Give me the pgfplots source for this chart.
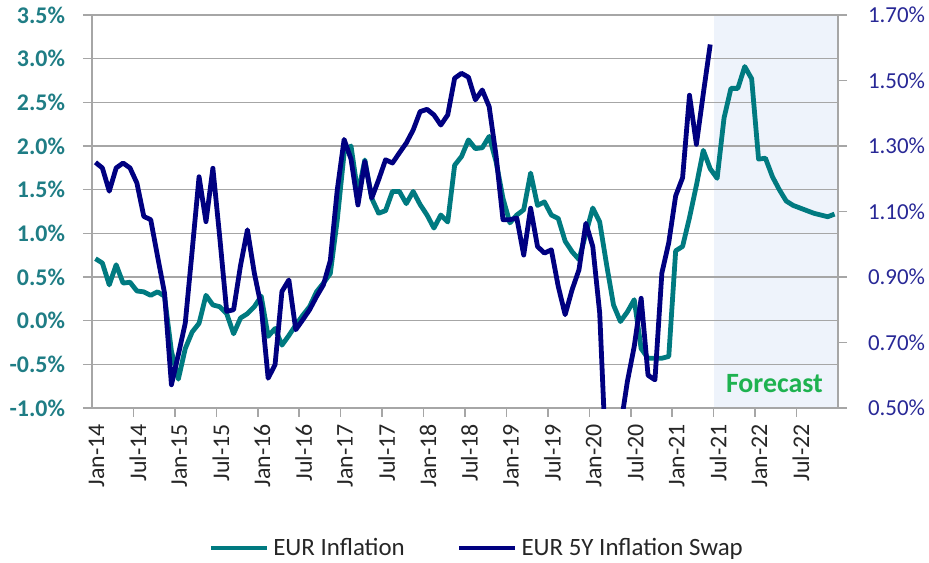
\documentclass[border=0pt]{standalone}
\usepackage{fontspec}
\setmainfont{Carlito}
\usepackage{pgfplots}
\usepackage{pgfplotstable}
\pgfplotsset{compat=1.18}

\definecolor{teal1}{RGB}{0,122,128}
\definecolor{navy1}{RGB}{0,0,128}
\definecolor{tealtxt}{RGB}{31,125,133}
\definecolor{navytxt}{RGB}{40,40,150}
\definecolor{gridc}{RGB}{166,166,166}
\definecolor{shade}{RGB}{238,243,251}
\definecolor{fcgreen}{RGB}{30,178,80}
\definecolor{lbl}{RGB}{38,38,38}

% months since Jan-14 (0 = Jan-14)
\pgfplotstableread{
m v
0 0.71
1 0.66
2 0.41
3 0.64
4 0.43
5 0.44
6 0.34
7 0.33
8 0.29
9 0.33
10 0.28
11 -0.35
12 -0.67
13 -0.32
14 -0.13
15 -0.03
16 0.29
17 0.18
18 0.16
19 0.08
20 -0.15
21 0.03
22 0.08
23 0.16
24 0.28
25 -0.18
26 -0.09
27 -0.28
28 -0.17
29 -0.05
30 0.06
31 0.16
32 0.33
33 0.43
34 0.54
35 1.15
36 1.92
37 2.00
38 1.45
39 1.84
40 1.40
41 1.23
42 1.26
43 1.48
44 1.48
45 1.34
46 1.48
47 1.33
48 1.21
49 1.06
50 1.21
51 1.13
52 1.78
53 1.88
54 2.07
55 1.97
56 1.98
57 2.11
58 1.82
59 1.40
60 1.12
61 1.21
62 1.27
63 1.69
64 1.32
65 1.36
66 1.21
67 1.17
68 0.91
69 0.79
70 0.70
71 1.00
72 1.29
73 1.13
74 0.64
75 0.18
76 -0.01
77 0.10
78 0.24
79 -0.32
80 -0.43
81 -0.43
82 -0.43
83 -0.41
84 0.80
85 0.85
86 1.18
87 1.55
88 1.95
89 1.74
90 1.63
91 2.32
92 2.66
93 2.66
94 2.91
95 2.77
96 1.85
97 1.86
98 1.65
99 1.50
100 1.37
101 1.32
102 1.29
103 1.26
104 1.23
105 1.21
106 1.19
107 1.22
}\infl

\pgfplotstableread{
m v
0 1.250
1 1.233
2 1.162
3 1.233
4 1.248
5 1.233
6 1.187
7 1.085
8 1.075
9 0.962
10 0.851
11 0.571
12 0.663
13 0.759
14 0.980
15 1.206
16 1.069
17 1.232
18 1.020
19 0.795
20 0.800
21 0.935
22 1.044
23 0.912
24 0.810
25 0.591
26 0.632
27 0.856
28 0.891
29 0.739
30 0.769
31 0.800
32 0.840
33 0.876
34 0.950
35 1.165
36 1.320
37 1.260
38 1.120
39 1.253
40 1.141
41 1.197
42 1.258
43 1.248
44 1.279
45 1.309
46 1.349
47 1.405
48 1.412
49 1.395
50 1.364
51 1.395
52 1.507
53 1.522
54 1.510
55 1.441
56 1.471
57 1.420
58 1.270
59 1.075
60 1.075
61 1.080
62 0.967
63 1.110
64 0.993
65 0.973
66 0.983
67 0.871
68 0.785
69 0.861
70 0.922
71 1.064
72 0.993
73 0.790
74 0.300
75 0.280
76 0.440
77 0.580
78 0.688
79 0.835
80 0.600
81 0.586
82 0.912
83 1.005
84 1.148
85 1.203
86 1.455
87 1.305
88 1.460
89 1.610
}\swap

\begin{document}
\begin{tikzpicture}
\begin{axis}[
  name=main, set layers,
  scale only axis, width=373bp, height=196.5bp,
  xmin=-0.5, xmax=107.5, ymin=-1, ymax=3.5,
  axis x line*=bottom, axis y line*=left,
  axis line style={gridc, line width=0.8bp},
  every tick/.style={gridc, line width=0.8bp},
  tick align=outside,
  major tick length=4.5bp,
  ytick={-1,-0.5,0,0.5,1,1.5,2,2.5,3,3.5},
  ymajorgrids, grid style={gridc, line width=0.8bp},
  /pgf/number format/assume math mode=true,
  yticklabel={\pgfmathprintnumber[fixed,fixed zerofill,precision=1]{\tick}\%},
  yticklabel style={font=\bfseries\fontsize{12}{14}\selectfont, text=tealtxt, xshift=-5.5bp},
  xtick={5.5,11.5,17.5,23.5,29.5,35.5,41.5,47.5,53.5,59.5,65.5,71.5,77.5,83.5,89.5,95.5,101.5},
  xticklabels={},
  extra x ticks={0,6,...,102},
  extra x tick labels={Jan-14,Jul-14,Jan-15,Jul-15,Jan-16,Jul-16,Jan-17,Jul-17,Jan-18,Jul-18,Jan-19,Jul-19,Jan-20,Jul-20,Jan-21,Jul-21,Jan-22,Jul-22},
  extra x tick style={tick style={draw=none}},
  xticklabel style={rotate=90, anchor=east, font=\fontsize{12}{14}\selectfont, text=lbl, yshift=-0.5bp},
]
\addplot[on layer=axis background, fill=shade, draw=none] coordinates {(89.5,-1) (89.5,3.5) (107.5,3.5) (107.5,-1)} -- cycle;
\addplot[teal1, line width=2.4bp, line join=round] table[x=m, y=v] {\infl};
\node[font=\bfseries\fontsize{14}{16}\selectfont, text=fcgreen] at (axis cs:98.3,-0.72) {Forecast};
\end{axis}
\begin{axis}[
  scale only axis, width=373bp, height=196.5bp,
  xmin=-0.5, xmax=107.5, ymin=0.5, ymax=1.7,
  axis x line=none, axis y line*=right,
  axis line style={gridc, line width=0.8bp},
  every tick/.style={gridc, line width=0.8bp},
  tick align=outside, major tick length=4.5bp,
  ytick={0.5,0.7,0.9,1.1,1.3,1.5,1.7},
  /pgf/number format/assume math mode=true,
  yticklabel={\pgfmathprintnumber[fixed,fixed zerofill,precision=2]{\tick}\%},
  yticklabel style={font=\fontsize{11.5}{13}\selectfont, text=navytxt, xshift=7bp},
  legend style={at={(rel axis cs:0.517,-0.356)}, anchor=center, draw=none, fill=none,
    font=\fontsize{12.5}{14}\selectfont, text=lbl, legend columns=2,
    /tikz/every even column/.append style={column sep=24bp}},
  legend image code/.code={\draw[#1] (0bp,0bp) -- (28bp,0bp);},
]
\addlegendimage{teal1, line width=2.4bp}
\addlegendentry{EUR Inflation}
\addplot[navy1, line width=2.4bp, line join=round] table[x=m, y=v] {\swap};
\addlegendentry{EUR 5Y Inflation Swap}
\end{axis}
\pgfresetboundingbox
\path[use as bounding box] ([shift={(-46bp,-77.5bp)}]main.south west) rectangle ([shift={(45.5bp,7.5bp)}]main.north east);
\end{tikzpicture}
\end{document}
